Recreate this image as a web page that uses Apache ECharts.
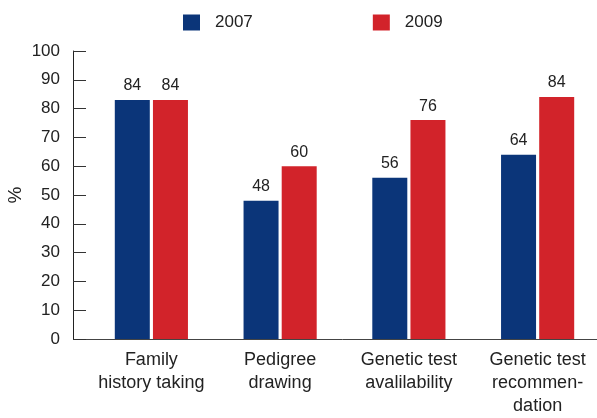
<!DOCTYPE html>
<html>
<head>
<meta charset="utf-8">
<script src="https://cdn.jsdelivr.net/npm/echarts@6/dist/echarts.min.js"></script>
<style>
html,body{margin:0;padding:0;background:#fff;}
#chart{width:597px;height:418px;}
</style>
</head>
<body>
<div id="chart"></div>
<script>
var categories = ['Family\nhistory taking', 'Pedigree\ndrawing', 'Genetic test\navalilability', 'Genetic test\nrecommen-\ndation'];
var seriesNames = ['2007', '2009'];
var values2007 = [83, 48, 56, 64];
var values2009 = [83, 60, 76, 84];
var labels2007 = ['84', '48', '56', '64'];
var labels2009 = ['84', '60', '76', '84'];
var yTicks = [0, 10, 20, 30, 40, 50, 60, 70, 80, 90, 100];

var FONT = '"Liberation Sans", Arial, Helvetica, sans-serif';
var chart = echarts.init(document.getElementById('chart'));

function mkLabel(lbls) {
  return {
    show: true, position: 'top', distance: 6,
    fontFamily: FONT, fontSize: 16, color: '#222',
    formatter: function (p) { return lbls[p.dataIndex]; }
  };
}

chart.setOption({
  animation: false,
  textStyle: { fontFamily: FONT },
  legend: {
    left: 183, top: 14, padding: 0,
    itemWidth: 17, itemHeight: 16, itemGap: 120,
    icon: 'rect',
    textStyle: { fontFamily: FONT, fontSize: 17, color: '#222', padding: [0, 0, 0, 10] },
    data: seriesNames
  },
  grid: { left: 87, right: -5, top: 51, bottom: 79, containLabel: false, outerBoundsMode: 'none' },
  xAxis: {
    type: 'category',
    data: categories,
    axisLine: { lineStyle: { color: '#444', width: 1 } },
    axisTick: { show: false },
    axisLabel: { fontFamily: FONT, fontSize: 18, color: '#222', lineHeight: 23, margin: 10, interval: 0 }
  },
  yAxis: {
    type: 'value', min: yTicks[0], max: yTicks[yTicks.length - 1], interval: 10,
    offset: 14,
    name: '%', nameLocation: 'middle', nameGap: 48, nameRotate: 90, nameMoveOverlap: false,
    nameTextStyle: { fontFamily: FONT, fontSize: 19, color: '#222' },
    axisLine: { show: true, lineStyle: { color: '#222', width: 1 } },
    axisTick: { show: true, inside: true, length: 13, lineStyle: { color: '#333' } },
    axisLabel: { fontFamily: FONT, fontSize: 17, color: '#222', margin: 13 },
    splitLine: { show: false }
  },
  graphic: [{
    type: 'line', shape: { x1: 73, y1: 339.5, x2: 88, y2: 339.5 },
    style: { stroke: '#444', lineWidth: 1 }
  }],
  series: [
    { name: seriesNames[0], type: 'bar', data: values2007, barWidth: 35, barGap: '9%',
      itemStyle: { color: '#0b3579' }, label: mkLabel(labels2007) },
    { name: seriesNames[1], type: 'bar', data: values2009, barWidth: 35,
      itemStyle: { color: '#d2232a' }, label: mkLabel(labels2009) }
  ]
});
</script>
</body>
</html>
